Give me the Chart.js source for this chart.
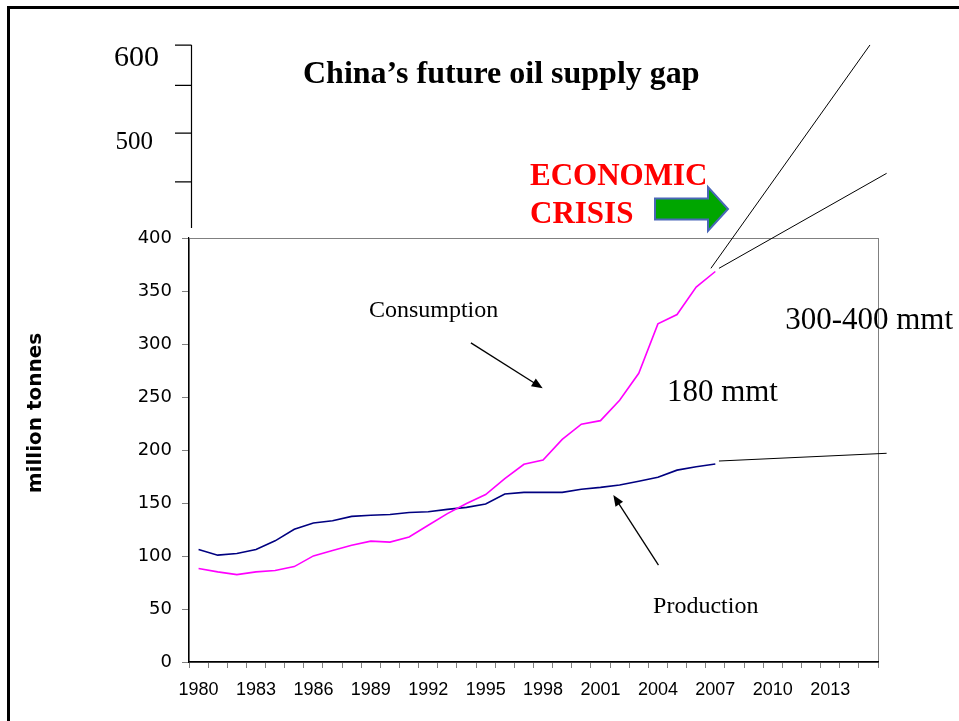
<!DOCTYPE html>
<html lang="en">
<head>
    <meta charset="UTF-8">
    <title>China's future oil supply gap</title>
    <script src="https://cdn.jsdelivr.net/npm/chart.js"></script>
    <style>
        body { margin: 0; background: #fff; overflow: hidden; }
        canvas { display: block; }
    </style>
</head>
<body>
    <canvas id="myChart" width="959" height="721"></canvas>

    <script>
        const years = ["1980", "1981", "1982", "1983", "1984", "1985", "1986", "1987", "1988", "1989",
            "1990", "1991", "1992", "1993", "1994", "1995", "1996", "1997", "1998", "1999",
            "2000", "2001", "2002", "2003", "2004", "2005", "2006", "2007", "2008", "2009",
            "2010", "2011", "2012", "2013", "2014", "2015"];

        // million tonnes, 1980-2007
        const consumption = [88.2, 85, 82.4, 85, 86.3, 90, 100.1, 105.2, 110.2, 114,
            113.1, 118, 129, 140, 149.5, 158, 173, 186.5, 190.5, 210,
            224.3, 227.7, 247, 272.4, 319, 327.8, 353.7, 368.4];
        const production = [106.2, 100.8, 102.4, 106.2, 114.3, 125.2, 131.1, 133.2, 137.4, 138.4,
            139.2, 141.1, 141.7, 144, 145.9, 149, 158.5, 160, 160, 160,
            163, 164.7, 167, 170.5, 174.2, 181, 184.2, 186.8];

        // hand drawn projections (year, million tonnes)
        const projHigh = [{ x: 2006.77, y: 371.4 }, { x: 2015.08, y: 582.1 }];
        const projLow = [{ x: 2007.19, y: 371.4 }, { x: 2015.95, y: 461.0 }];
        const projProd = [{ x: 2007.19, y: 189.6 }, { x: 2015.95, y: 196.9 }];

        // the sketched extension of the y axis above 400
        const extTicks = [582, 544, 499, 453];
        const extLabels = [{ text: "600", v: 562, size: 30 }, { text: "500", v: 484, size: 25 }];

        const serif = '"Liberation Serif", "Times New Roman", serif';

        function arrow(ctx, x1, y1, x2, y2) {
            const a = Math.atan2(y2 - y1, x2 - x1);
            const c = Math.cos(a), s = Math.sin(a);
            ctx.beginPath();
            ctx.moveTo(x1, y1);
            ctx.lineTo(x2 - 8 * c, y2 - 8 * s);
            ctx.stroke();
            ctx.beginPath();
            ctx.moveTo(x2, y2);
            ctx.lineTo(x2 - 11 * c + 4.5 * s, y2 - 11 * s - 4.5 * c);
            ctx.lineTo(x2 - 11 * c - 4.5 * s, y2 - 11 * s + 4.5 * c);
            ctx.closePath();
            ctx.fill();
        }

        const deco = {
            id: "deco",
            beforeDraw(chart) {
                const { ctx, chartArea: a } = chart;
                ctx.save();
                // slide frame
                ctx.strokeStyle = "#000";
                ctx.lineWidth = 3;
                ctx.beginPath();
                ctx.moveTo(8.5, 721);
                ctx.lineTo(8.5, 7.5);
                ctx.lineTo(959, 7.5);
                ctx.stroke();
                // plot box
                ctx.strokeStyle = "#808080";
                ctx.lineWidth = 1;
                ctx.strokeRect(a.left + 0.5, a.top + 0.5, a.right - a.left, a.bottom - a.top);
                ctx.restore();
            },
            afterDatasetsDraw(chart) {
                const { ctx, chartArea: a } = chart;
                const X = v => chart.scales.xe.getPixelForValue(v);
                const Y = v => chart.scales.y.getPixelForValue(v);
                ctx.save();
                ctx.fillStyle = "#000";
                ctx.strokeStyle = "#000";

                // sketched axis 400-600
                ctx.lineWidth = 1.2;
                const ax = a.left + 2.5;
                ctx.beginPath();
                ctx.moveTo(ax, Y(extTicks[0]));
                ctx.lineTo(ax, a.top - 10);
                extTicks.forEach(t => {
                    ctx.moveTo(ax - 16.5, Y(t));
                    ctx.lineTo(ax, Y(t));
                });
                ctx.stroke();
                ctx.textAlign = "right";
                ctx.textBaseline = "alphabetic";
                extLabels.forEach((l, i) => {
                    ctx.font = l.size + "px " + serif;
                    ctx.fillText(l.text, i === 0 ? 159 : 153, Y(l.v));
                });

                // y axis title
                ctx.save();
                ctx.translate(36, 413);
                ctx.rotate(-Math.PI / 2);
                ctx.font = 'bold 20px "DejaVu Sans", sans-serif';
                ctx.textAlign = "center";
                ctx.textBaseline = "middle";
                ctx.fillText("million tonnes", 0, 0);
                ctx.restore();

                // title
                ctx.textAlign = "left";
                ctx.textBaseline = "alphabetic";
                ctx.font = "bold 32px " + serif;
                ctx.fillText("China\u2019s future oil supply gap", 303, 83);

                // economic crisis
                ctx.fillStyle = "#ff0000";
                ctx.font = "bold 31px " + serif;
                ctx.fillText("ECONOMIC", 530, 185);
                ctx.fillText("CRISIS", 530, 223);

                ctx.beginPath();
                ctx.moveTo(655, 198.5);
                ctx.lineTo(708, 198.5);
                ctx.lineTo(708, 187);
                ctx.lineTo(728, 209);
                ctx.lineTo(708, 231);
                ctx.lineTo(708, 219.5);
                ctx.lineTo(655, 219.5);
                ctx.closePath();
                ctx.fillStyle = "#00a600";
                ctx.fill();
                ctx.strokeStyle = "#4a67b8";
                ctx.lineWidth = 2;
                ctx.stroke();

                // labels inside plot
                ctx.fillStyle = "#000";
                ctx.strokeStyle = "#000";
                ctx.font = "24px " + serif;
                ctx.fillText("Consumption", X(1988.9), Y(325.6));
                ctx.fillText("Production", X(2003.75), Y(46.3));
                ctx.font = "31px " + serif;
                ctx.fillText("180 mmt", X(2004.47), Y(245.8));
                ctx.fillText("300-400 mmt", X(2010.65), Y(314.3));

                ctx.lineWidth = 1.3;
                arrow(ctx, X(1994.23), Y(301.1), X(1997.98), Y(258.3));
                arrow(ctx, X(2004.03), Y(91.4), X(2001.67), Y(157.5));
                ctx.restore();
            }
        };

        new Chart(document.getElementById("myChart"), {
            type: "line",
            data: {
                labels: years,
                datasets: [
                    {
                        label: "Consumption",
                        data: consumption,
                        borderColor: "#ff00ff",
                        borderWidth: 1.6
                    },
                    {
                        label: "Production",
                        data: production,
                        borderColor: "#000080",
                        borderWidth: 1.6
                    },
                    {
                        label: "Consumption projection high",
                        data: projHigh,
                        xAxisID: "xe",
                        borderColor: "#000",
                        borderWidth: 1,
                        clip: false
                    },
                    {
                        label: "Consumption projection low",
                        data: projLow,
                        xAxisID: "xe",
                        borderColor: "#000",
                        borderWidth: 1,
                        clip: false
                    },
                    {
                        label: "Production projection",
                        data: projProd,
                        xAxisID: "xe",
                        borderColor: "#000",
                        borderWidth: 1,
                        clip: false
                    }
                ]
            },
            options: {
                responsive: false,
                animation: false,
                elements: {
                    point: { radius: 0 },
                    line: { tension: 0, fill: false }
                },
                layout: { padding: { top: 238, right: 81, left: 0, bottom: 0 } },
                plugins: {
                    legend: { display: false },
                    tooltip: { enabled: false }
                },
                scales: {
                    x: {
                        offset: true,
                        grid: {
                            offset: true,
                            drawOnChartArea: false,
                            tickLength: 6,
                            color: "#808080"
                        },
                        border: { color: "#000", width: 1.5 },
                        ticks: {
                            autoSkip: false,
                            maxRotation: 0,
                            padding: 11,
                            color: "#000",
                            font: { family: '"Liberation Sans Narrow", "Arial Narrow", "Liberation Sans", Arial', size: 18 },
                            callback: (v, i) => i % 3 === 0 ? years[i] : ""
                        },
                        afterFit: s => { s.height = 59; }
                    },
                    xe: {
                        type: "linear",
                        display: false,
                        min: 1979.5,
                        max: 2015.5
                    },
                    y: {
                        min: 0,
                        max: 400,
                        grid: {
                            drawOnChartArea: false,
                            tickLength: 7,
                            color: "#808080"
                        },
                        border: { color: "#000", width: 1.2 },
                        ticks: {
                            stepSize: 50,
                            padding: 10,
                            color: "#000",
                            font: { family: '"DejaVu Sans", sans-serif', size: 18 }
                        },
                        afterFit: s => { s.width = 189; }
                    }
                }
            },
            plugins: [deco]
        });
    </script>
</body>

</html>
